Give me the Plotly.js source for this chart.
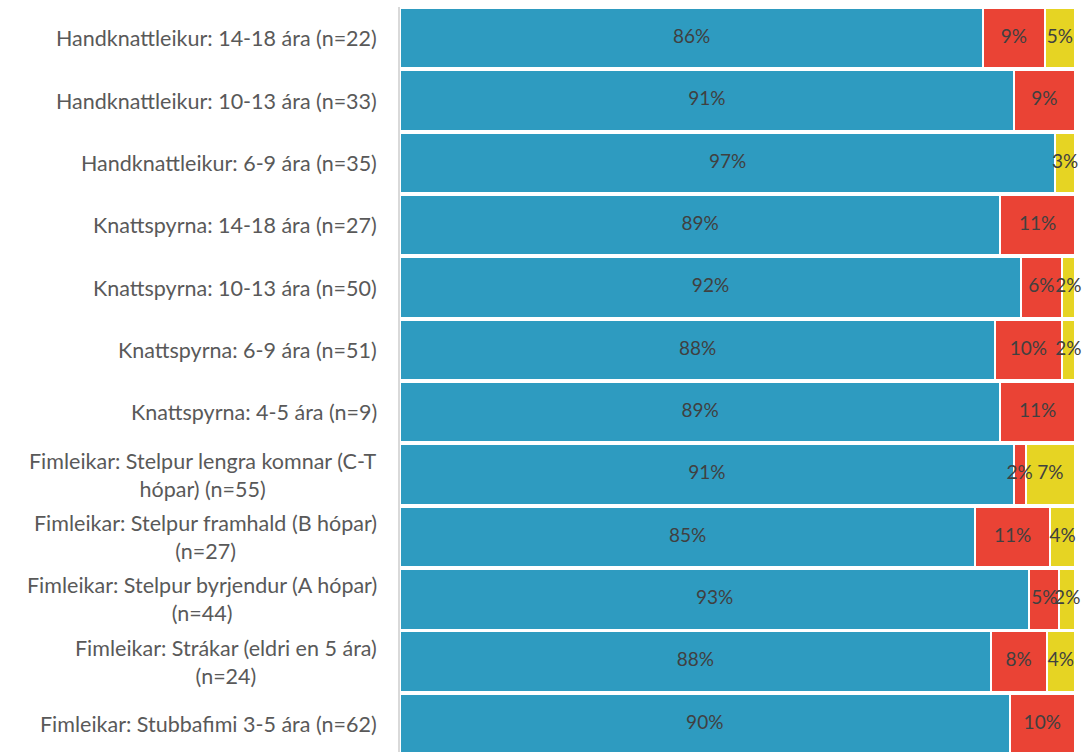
<!DOCTYPE html>
<html>
<head>
<meta charset="utf-8">
<script src="https://cdn.plot.ly/plotly-3.0.1.min.js"></script>
<style>
  html, body { margin: 0; padding: 0; background: #fff; }
  #chart { width: 1084px; height: 752px; }
</style>
</head>
<body>
<div id="chart"></div>
<script>
// hópar / aldursflokkar (efst til neðst)
const categories = [
    'Handknattleikur: 14-18 ára (n=22)',
    'Handknattleikur: 10-13 ára (n=33)',
    'Handknattleikur: 6-9 ára (n=35)',
    'Knattspyrna: 14-18 ára (n=27)',
    'Knattspyrna: 10-13 ára (n=50)',
    'Knattspyrna: 6-9 ára (n=51)',
    'Knattspyrna: 4-5 ára (n=9)',
    'Fimleikar: Stelpur lengra komnar (C-T<br>hópar) (n=55)',
    'Fimleikar: Stelpur framhald (B hópar)<br>(n=27)',
    'Fimleikar: Stelpur byrjendur (A hópar)<br>(n=44)',
    'Fimleikar: Strákar (eldri en 5 ára)<br>(n=24)',
    'Fimleikar: Stubbafimi 3-5 ára (n=62)'
];

const blueValues   = [86.4, 90.9, 97.1, 88.9, 92.0, 88.2, 88.9, 90.9, 85.2, 93.2, 87.5, 90.3];
const redValues    = [9.1, 9.1, 0, 11.1, 6.0, 9.8, 11.1, 1.8, 11.1, 4.5, 8.3, 9.7];
const yellowValues = [4.5, 0, 2.9, 0, 2.0, 2.0, 0, 7.3, 3.7, 2.3, 4.2, 0];

const colors = ['#2e9bc0', '#ea4335', '#e6d423'];
const fontFamily = 'Lato, sans-serif';

const idx = categories.map((c, i) => i);
const series = [blueValues, redValues, yellowValues];

function makeBar(vals, color) {
    return {
        type: 'bar',
        orientation: 'h',
        x: vals,
        y: idx,
        marker: { color: color, line: { color: '#ffffff', width: 2 } },
        hoverinfo: 'x+y',
        showlegend: false
    };
}

const traces = series.map((vals, s) => makeBar(vals, colors[s]));

// prósentumerki ofan á öllum stöplum, svo litlir reitir skarist ekki
const labelX = [], labelY = [], labelText = [];
idx.forEach(i => {
    let base = 0;
    series.forEach(vals => {
        const v = vals[i];
        if (v > 0) {
            labelX.push(base + v / 2);
            labelY.push(i);
            labelText.push(Math.round(v) + '%');
        }
        base += v;
    });
});

traces.push({
    type: 'scatter',
    mode: 'text',
    x: labelX,
    y: labelY,
    text: labelText,
    textposition: 'middle center',
    textfont: { family: fontFamily, size: 19, color: '#404040' },
    cliponaxis: false,
    hoverinfo: 'skip',
    showlegend: false
});

// flokkaheiti sem athugasemdir (miðjaðar línur)
const annotations = categories.map((c, i) => ({
    xref: 'paper', yref: 'y',
    x: 0, y: i,
    xanchor: 'right', yanchor: 'middle',
    xshift: -21,
    text: c,
    align: 'center',
    showarrow: false,
    font: { family: fontFamily, size: 21.5, color: '#595959' }
}));

const layout = {
    barmode: 'stack',
    bargap: 0.03,
    width: 1084,
    height: 752,
    margin: { l: 400, r: 9, t: 7, b: 0 },
    paper_bgcolor: '#ffffff',
    plot_bgcolor: '#ffffff',
    xaxis: {
        range: [0, 100],
        visible: false,
        fixedrange: true
    },
    yaxis: {
        range: [11.45, -0.5],
        showticklabels: false,
        ticks: '',
        showgrid: false,
        zeroline: false,
        showline: true,
        linecolor: '#d9d9d9',
        linewidth: 2,
        fixedrange: true
    },
    annotations: annotations
};

Plotly.newPlot('chart', traces, layout, { displayModeBar: false, staticPlot: true });
</script>
</body>
</html>
